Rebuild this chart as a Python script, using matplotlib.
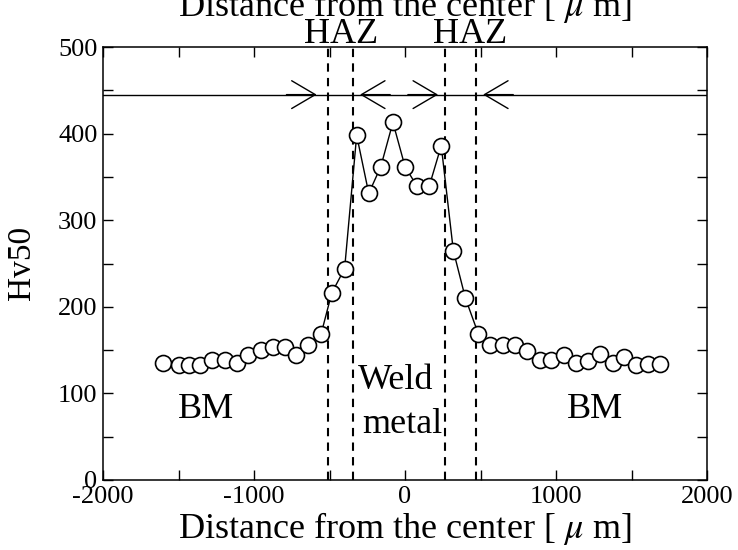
import numpy as np
import matplotlib
matplotlib.use("Agg")
import matplotlib.pyplot as plt

plt.rcParams['font.family'] = ['Liberation Serif', 'DejaVu Serif']
plt.rcParams['mathtext.fontset'] = 'stix'
plt.rcParams['axes.unicode_minus'] = False

# hardness profile across the weld
dist = [-1600, -1500, -1430, -1360, -1280, -1190, -1110, -1040, -955, -875,
        -795, -725, -645, -555,
        -485, -400, -320, -240, -160, -80, 0, 80, 160, 240, 320, 400,
        485, 565, 650, 730, 810, 895, 965, 1050, 1135, 1210, 1290, 1375,
        1450, 1530, 1610, 1690]
hv = [135, 133, 133, 133, 139, 139, 135, 144, 150, 154,
      154, 144, 156, 169,
      216, 244, 398, 331, 362, 413, 362, 339, 339, 386, 265, 210,
      169, 156, 156, 156, 149, 139, 139, 144, 135, 137, 145, 135,
      142, 133, 134, 134]

# zone boundaries (HAZ / weld metal)
bounds = [-510, -345, 265, 470]
level = 445

fig = plt.figure(figsize=(7.38, 5.5), dpi=100)
ax = fig.add_axes([103/738, 1 - 480/550, 604/738, 433/550])

for b in bounds:
    ax.axvline(b, color='black', lw=1.5, ls=(0, (4, 3)), zorder=1)
ax.axhline(level, color='black', lw=1.0, zorder=1)

# chevrons pointing at the boundaries
offs = [-75, 47, -46, 47]
for b, o in zip(bounds, offs):
    tip = b + o
    tail = tip - 200 if o < 0 else tip + 200
    ax.annotate('', xy=(tip, level), xytext=(tail, level),
                arrowprops=dict(arrowstyle='->,head_length=1.7,head_width=1.0',
                                mutation_scale=10, lw=1.0, color='black',
                                shrinkA=0, shrinkB=0))

ax.plot(dist, hv, color='black', lw=1.0, marker='o', ms=11.5,
        mfc='white', mec='black', mew=1.2, zorder=3)

ax.set_xlim(-2000, 2000)
ax.set_ylim(0, 500)
ax.set_xticks([-2000, -1000, 0, 1000, 2000])
ax.set_xticks(np.arange(-1500, 2000, 1000), minor=True)
ax.set_yticks(np.arange(0, 501, 100))
ax.set_yticks(np.arange(50, 500, 100), minor=True)
ax.tick_params(which='both', direction='in', length=7, width=1.0,
               top=True, right=True, labelsize=19, pad=4)
for s in ax.spines.values():
    s.set_linewidth(1.1)

ax.set_xlabel('Distance from the center [ $\\mu$ m]', fontsize=26, labelpad=2)
fig.text(22/738, 1 - 263/550, 'Hv50', rotation=90, ha='center', va='center',
         fontsize=24)
fig.text(405/738, 1 - 16/550, 'Distance from the center [ $\\mu$ m]',
         ha='center', va='baseline', fontsize=26)

ax.text(-425, 505, 'HAZ', ha='center', va='baseline', fontsize=26)
ax.text(430, 505, 'HAZ', ha='center', va='baseline', fontsize=26)
ax.text(-1318, 81, 'BM', ha='center', va='center', fontsize=26)
ax.text(1258, 81, 'BM', ha='center', va='center', fontsize=26)
ax.text(-60, 115, 'Weld', ha='center', va='center', fontsize=26)
ax.text(-20, 64, 'metal', ha='center', va='center', fontsize=26)

fig.savefig('out.png', dpi=100)
